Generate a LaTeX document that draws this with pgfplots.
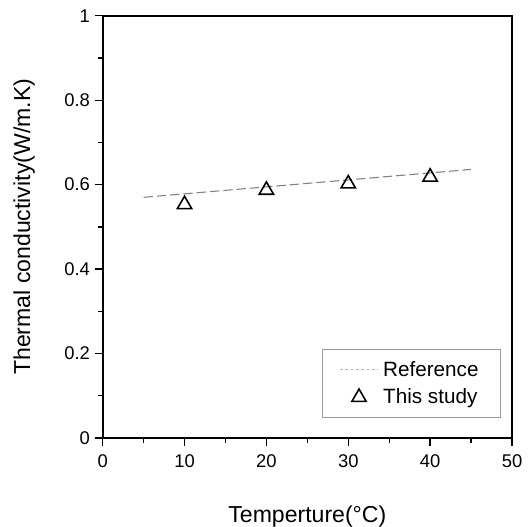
\documentclass[border=0pt]{standalone}
\usepackage{fontspec}
\setmainfont{Liberation Sans}
\usepackage{pgfplots}
\pgfplotsset{compat=1.18}
\pgfplotsset{
  reflegend/.style={legend image code/.code={\draw[##1, gray!60, dash pattern=on 2pt off 2pt] (0cm,0cm) -- (1cm,0cm);}},
  marklegend/.style={legend image code/.code={\draw[##1] plot coordinates {(0.5cm,0cm)};}},
}
\begin{document}
\begin{tikzpicture}
\begin{axis}[
  at={(0,0)}, anchor=south west,
  scale only axis,
  width=307pt, height=316.7pt,
  xmin=0, xmax=50, ymin=0, ymax=1,
  xtick={0,10,20,30,40,50},
  ytick={0,0.2,0.4,0.6,0.8,1},
  yticklabels={0,0.2,0.4,0.6,0.8,1},
  minor x tick num=1, minor y tick num=1,
  tick pos=left, tick align=outside,
  major tick length=6pt, minor tick length=3.5pt,
  every tick/.style={black, line width=1pt},
  axis line style={line width=1.3pt},
  /pgf/number format/assume math mode=true,
  ticklabel style={font=\fontsize{13.8}{16}\selectfont},
  xticklabel style={yshift=-3pt},
  xlabel={Temperture(°C)},
  ylabel={Thermal conductivity(W/m.K)},
  label style={font=\fontsize{17.3}{20}\selectfont},
  x label style={at={(axis description cs:0.5,-0.187)}, anchor=center},
  y label style={at={(axis description cs:-0.192,0.5)}, anchor=center},
  legend style={at={(axis description cs:0.973,0.047)}, anchor=south east,
    draw=gray!80, line width=0.6pt, font=\fontsize{15.5}{18}\selectfont,
    inner xsep=13pt, inner ysep=7pt, row sep=4pt,
    nodes={inner xsep=3.5pt, inner ysep=2pt, anchor=west},
    /tikz/every even column/.append style={column sep=11pt}},
  legend cell align=left,
]
\addplot[gray, line width=0.8pt, dash pattern=on 7pt off 3pt, reflegend]
  coordinates {(5,0.570) (45,0.636)};
\addlegendentry{Reference}
\addplot[only marks, mark=triangle, mark size=6.2pt, black, line width=1.2pt, marklegend]
  coordinates {(10,0.553) (20,0.587) (30,0.602) (40,0.618)};
\addlegendentry{This study}
\end{axis}
\pgfresetboundingbox
\useasboundingbox (-77pt,-66.75pt) rectangle (319pt,328.5pt);
\end{tikzpicture}
\end{document}
